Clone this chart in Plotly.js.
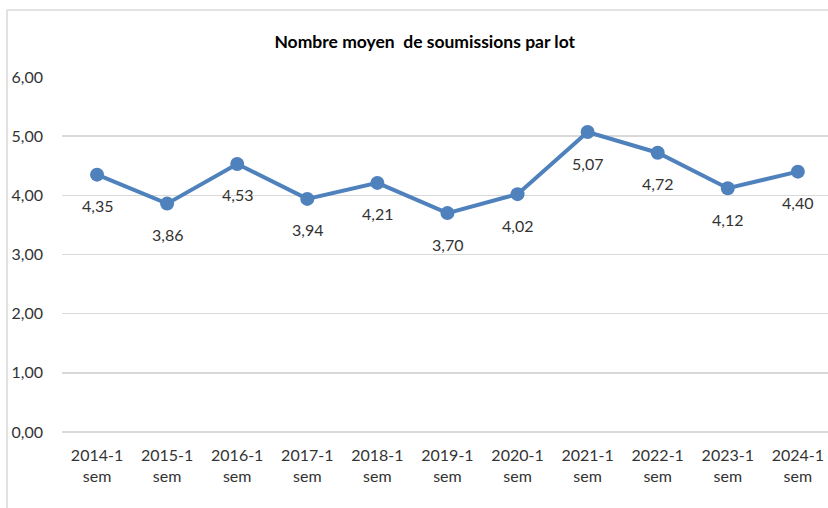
<!DOCTYPE html>
<html>
<head>
<meta charset="utf-8">
<script src="https://cdn.plot.ly/plotly-3.0.1.min.js"></script>
<style>html,body{margin:0;padding:0;background:#fff;}#chart{width:828px;height:508px;}</style>
</head>
<body>
<div id="chart"></div>
<script>
var categories = ["2014-1<br>sem","2015-1<br>sem","2016-1<br>sem","2017-1<br>sem","2018-1<br>sem","2019-1<br>sem","2020-1<br>sem","2021-1<br>sem","2022-1<br>sem","2023-1<br>sem","2024-1<br>sem"];
var values = [4.35, 3.86, 4.53, 3.94, 4.21, 3.70, 4.02, 5.07, 4.72, 4.12, 4.40];
var yTicks = [0, 1, 2, 3, 4, 5, 6];
var titleText = "Nombre moyen  de soumissions par lot";

var fontFam = "Lato, 'Open Sans', sans-serif";
var fmt = function(v){ return v.toFixed(2).replace('.', ','); };

var trace = {
  type: 'scatter', mode: 'lines+markers',
  x: categories, y: values,
  line: {color: '#4f81bd', width: 4},
  marker: {color: '#4f81bd', size: 14},
  hoverinfo: 'none', cliponaxis: false
};

var annotations = values.map(function(v, i){
  return {x: categories[i], y: v, xref: 'x', yref: 'y', text: fmt(v), showarrow: false,
          yshift: -31, font: {family: fontFam, size: 16, color: '#333333'}};
});

var layout = {
  width: 828, height: 508,
  margin: {l: 62, r: 0, t: 77, b: 76},
  paper_bgcolor: '#ffffff', plot_bgcolor: '#ffffff',
  showlegend: false,
  title: {text: titleText, x: 0.513, xref: 'container', xanchor: 'center', y: 1 - 42/508, yref: 'container', yanchor: 'middle',
          font: {family: fontFam, size: 17.5, color: '#000000', weight: 700}},
  xaxis: {type: 'category', range: [-0.5, 10.43], showgrid: false, zeroline: false, showline: false,
          ticks: '', tickfont: {family: fontFam, size: 16, color: '#333333'}, ticklabelstandoff: 12, fixedrange: true},
  yaxis: {range: [0, 6], tickvals: yTicks, ticktext: yTicks.map(fmt), showgrid: true, gridcolor: '#d9d9d9', gridwidth: 1.5,
          zeroline: true, zerolinecolor: '#d9d9d9', zerolinewidth: 1.5, showline: false, ticks: '',
          tickfont: {family: fontFam, size: 16, color: '#333333'}, ticklabelstandoff: 18, fixedrange: true},
  annotations: annotations,
  shapes: [
    {type: 'line', xref: 'paper', yref: 'paper', x0: (7-62)/766, x1: (7-62)/766, y0: (432-10)/355, y1: -1, line: {color: '#d9d9d9', width: 1.5}},
    {type: 'line', xref: 'paper', yref: 'paper', x0: (7-62)/766, x1: 1.2, y0: (432-10)/355, y1: (432-10)/355, line: {color: '#d9d9d9', width: 1.5}}
  ]
};

Plotly.newPlot('chart', [trace], layout, {displayModeBar: false, staticPlot: true});
</script>
</body>
</html>
